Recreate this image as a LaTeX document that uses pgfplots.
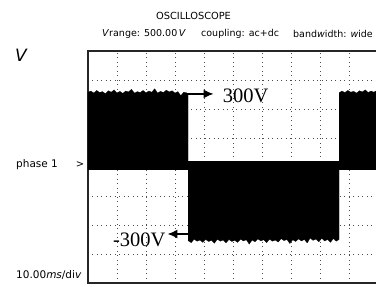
\documentclass[border=0pt]{standalone}
\usepackage{pgfplots}
\pgfplotsset{compat=1.18}
\usepackage{fontspec}
\setmainfont{Liberation Serif}
\newfontfamily\dejavu{DejaVu Sans}
\usetikzlibrary{arrows.meta}
\begin{document}
\begin{tikzpicture}[x=1pt,y=1pt]
\path[use as bounding box] (0pt,0pt) rectangle (376pt,287pt);
\begin{axis}[
  at={(88pt,4pt)}, anchor=south west,
  scale only axis, width=290pt, height=232pt,
  xmin=0, xmax=10, ymin=-4, ymax=4,
  xtick={1,...,9}, ytick={-3,...,3},
  xticklabels={}, yticklabels={},
  major tick length=0pt,
  grid=major,
  major grid style={black!70, line width=0.9pt, dash pattern=on 0.9pt off 3.6pt},
  axis line style={black!85, line width=1.3pt},
  clip=true,
]
% high segment (left)
\addplot[fill=black, draw=black, line width=0.2pt] coordinates {
(0,-0.1) (0,2.58) (0.1,2.62) (0.2,2.55) (0.3,2.64) (0.4,2.57) (0.5,2.60) (0.6,2.53)
(0.7,2.63) (0.8,2.58) (0.9,2.66) (1.0,2.56) (1.1,2.61) (1.2,2.54) (1.3,2.62) (1.4,2.59)
(1.5,2.68) (1.6,2.55) (1.7,2.60) (1.8,2.57) (1.9,2.64) (2.0,2.56) (2.1,2.62) (2.2,2.58)
(2.3,2.70) (2.4,2.55) (2.5,2.61) (2.6,2.57) (2.7,2.65) (2.8,2.59) (2.9,2.63) (3.0,2.55)
(3.1,2.60) (3.2,2.46) (3.3,2.58) (3.4,2.56) (3.45,2.52) (3.45,-0.1)
};
% low segment
\addplot[fill=black, draw=black, line width=0.2pt] coordinates {
(3.45,0.2) (8.66,0.2) (8.66,-2.50) (8.56,-2.56) (8.46,-2.47) (8.36,-2.60) (8.26,-2.50)
(8.16,-2.55) (8.06,-2.46) (7.96,-2.58) (7.86,-2.49) (7.76,-2.53) (7.66,-2.45) (7.56,-2.62)
(7.46,-2.50) (7.36,-2.55) (7.26,-2.48) (7.16,-2.57) (7.06,-2.51) (6.96,-2.64) (6.86,-2.50)
(6.76,-2.54) (6.66,-2.47) (6.56,-2.59) (6.46,-2.52) (6.36,-2.56) (6.26,-2.49) (6.16,-2.61)
(6.06,-2.51) (5.96,-2.55) (5.86,-2.48) (5.76,-2.58) (5.66,-2.52) (5.56,-2.66) (5.46,-2.51)
(5.36,-2.55) (5.26,-2.49) (5.16,-2.60) (5.06,-2.53) (4.96,-2.57) (4.86,-2.50) (4.76,-2.62)
(4.66,-2.52) (4.56,-2.56) (4.46,-2.49) (4.36,-2.63) (4.26,-2.53) (4.16,-2.57) (4.06,-2.50)
(3.96,-2.60) (3.86,-2.52) (3.76,-2.56) (3.66,-2.49) (3.56,-2.61) (3.45,-2.54)
};
% high segment (right)
\addplot[fill=black, draw=black, line width=0.2pt] coordinates {
(8.66,-0.1) (8.66,2.56) (8.76,2.62) (8.86,2.57) (8.96,2.64) (9.06,2.58) (9.16,2.61)
(9.26,2.55) (9.36,2.63) (9.46,2.59) (9.56,2.66) (9.66,2.57) (9.76,2.62) (9.86,2.58)
(9.96,2.64) (10,2.60) (10,-0.1)
};
\draw[line width=1.6pt, -{Latex[length=10pt,width=9pt]}] (axis cs:3.28,2.52) -- (axis cs:4.33,2.52);
\draw[line width=1.6pt, -{Latex[length=10pt,width=9pt]}] (axis cs:3.55,-2.31) -- (axis cs:2.74,-2.31);
\node[anchor=west, inner sep=0pt, font=\fontsize{20.5}{22}\selectfont] at (axis cs:4.64,2.47) {300V};
\node[anchor=east, inner sep=0pt, font=\fontsize{20.5}{22}\selectfont] at (axis cs:2.68,-2.5) {-300V};
\end{axis}
\node[font=\dejavu\fontsize{9.8}{11}\selectfont, inner sep=0pt] at (193.5pt,271.5pt) {OSCILLOSCOPE};
\node[anchor=west, font=\dejavu\fontsize{9.5}{11}\selectfont, inner sep=0pt] at (102pt,253pt) {\textit{V}range: 500.00\,\textit{V}};
\node[anchor=west, font=\dejavu\fontsize{9.5}{11}\selectfont, inner sep=0pt] at (201pt,253pt) {coupling: ac+dc};
\node[anchor=west, font=\dejavu\fontsize{9.5}{11}\selectfont, inner sep=0pt] at (293pt,253pt) {band\textit{w}idth: \textit{w}ide};
\node[font=\dejavu\itshape\fontsize{17}{18}\selectfont, inner sep=0pt] at (21pt,232pt) {V};
\node[anchor=west, font=\dejavu\fontsize{10.5}{12}\selectfont, inner sep=0pt] at (16pt,122pt) {phase 1};
\node[font=\dejavu\fontsize{10}{12}\selectfont, inner sep=0pt] at (80pt,122pt) {>};
\node[anchor=west, font=\dejavu\fontsize{10.5}{12}\selectfont, inner sep=0pt] at (16pt,12pt) {10.00\textit{ms}/di\textit{v}};
\end{tikzpicture}
\end{document}
